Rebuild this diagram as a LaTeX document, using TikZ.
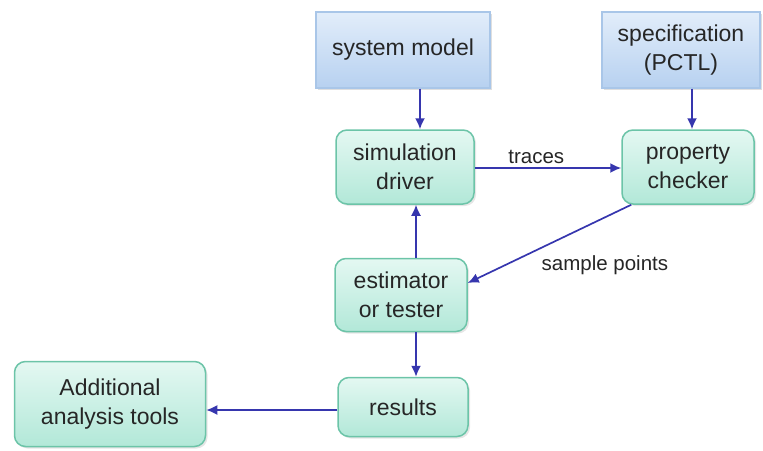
\documentclass[tikz,border=0pt]{standalone}
\usepackage{fontspec}
\setmainfont{Liberation Sans}
\usetikzlibrary{arrows.meta,shadows}
\definecolor{inblue}{HTML}{A9C6E8}
\definecolor{intop}{HTML}{E2EDFA}
\definecolor{inbot}{HTML}{B7D1F0}
\definecolor{stepline}{HTML}{6CC4A8}
\definecolor{steptop}{HTML}{E4F8F2}
\definecolor{stepbot}{HTML}{B2E8D8}
\definecolor{flow}{HTML}{3636AE}
\tikzset{
  inputbox/.style={draw=inblue, line width=1.2pt, top color=intop, bottom color=inbot,
    align=center, font=\fontsize{23}{29}\selectfont, text=black!85,
    drop shadow={opacity=0.25, shadow xshift=2pt, shadow yshift=-2pt}},
  stagebox/.style={draw=stepline, line width=1.5pt, rounded corners=11pt,
    top color=steptop, bottom color=stepbot, align=center,
    font=\fontsize{23}{29}\selectfont, text=black!85,
    drop shadow={opacity=0.2, shadow xshift=2pt, shadow yshift=-2pt}},
  flowarrow/.style={draw=flow, line width=1.7pt, -{Latex[length=11pt,width=10pt]}},
  flowlabel/.style={font=\fontsize{20.5}{24}\selectfont, text=black!85}
}
\begin{document}
\begin{tikzpicture}[x=1pt,y=-1pt]
            \useasboundingbox (0,0) rectangle (763,450);
            \node[inputbox, minimum width=174pt, minimum height=76pt] (sysmodel) at (403,50) {system model};
            \node[inputbox, minimum width=158pt, minimum height=76pt] (spec) at (681,50) {specification\\(PCTL)};
            \node[stagebox, minimum width=138pt, minimum height=74pt] (simdriver) at (405,167) {simulation\\driver};
            \node[stagebox, minimum width=132pt, minimum height=74pt] (checker) at (688,167) {property\\checker};
            \node[stagebox, minimum width=132pt, minimum height=73pt] (estimator) at (401,295) {estimator\\or tester};
            \node[stagebox, minimum width=130pt, minimum height=59pt] (results) at (403,407) {results};
            \node[stagebox, minimum width=191pt, minimum height=85pt] (tools) at (110,404) {Additional\\analysis tools};
            \draw[flowarrow] ([xshift=17pt]sysmodel.south) -- ([xshift=15pt]simdriver.north);
            \draw[flowarrow] ([xshift=11pt]spec.south) -- ([xshift=4pt]checker.north);
            \draw[flowarrow] ([yshift=-1pt]simdriver.east) -- node[flowlabel, pos=0.42, above] {traces} ([yshift=-1pt]checker.east -| checker.west);
            \draw[flowarrow] ([xshift=10pt]checker.south west) -- node[flowlabel, pos=0.5, anchor=north west, xshift=-12pt, yshift=-8pt] {sample points} ([yshift=12pt]estimator.east);
            \draw[flowarrow] ([xshift=15pt]estimator.north) -- ([xshift=11pt]simdriver.south);
            \draw[flowarrow] ([xshift=15pt]estimator.south) -- ([xshift=13pt]results.north);
            \draw[flowarrow] ([yshift=-3pt]results.west) -- ([yshift=-6pt]tools.east);
          \end{tikzpicture}
\end{document}
